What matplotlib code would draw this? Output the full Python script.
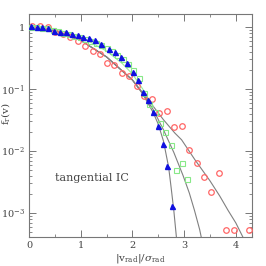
import matplotlib
matplotlib.use("Agg")
import matplotlib.pyplot as plt
from matplotlib.ticker import LogLocator, MultipleLocator, NullFormatter

# ---- data ----
blue_x = [0.04, 0.15, 0.26, 0.37, 0.49, 0.60, 0.71, 0.83, 0.94, 1.05, 1.16, 1.28,
          1.40, 1.55, 1.66, 1.77, 1.90, 2.015, 2.10, 2.21, 2.305, 2.40, 2.50, 2.595,
          2.67, 2.77]
blue_y = [1.05, 1.01, 0.99, 0.95, 0.87, 0.84, 0.82, 0.77, 0.74, 0.70, 0.66, 0.62,
          0.53, 0.45, 0.40, 0.33, 0.26, 0.19, 0.14, 0.09, 0.066, 0.042, 0.025, 0.0129,
          0.0057, 0.0013]

green_x = [0.04, 0.14, 0.25, 0.35, 0.46, 0.56, 0.66, 0.77, 0.87, 0.98, 1.08, 1.18,
           1.29, 1.39, 1.50, 1.60, 1.70, 1.81, 1.91, 2.02, 2.12, 2.22, 2.33, 2.44,
           2.53, 2.63, 2.74, 2.84, 2.95, 3.05]
green_y = [1.02, 1.0, 0.98, 0.95, 0.89, 0.85, 0.81, 0.76, 0.72, 0.68, 0.64, 0.60,
           0.56, 0.51, 0.46, 0.41, 0.36, 0.30, 0.25, 0.20, 0.15, 0.087, 0.058, 0.042,
           0.0286, 0.0202, 0.0125, 0.0049, 0.0063, 0.0035]

red_x = [0.06, 0.21, 0.36, 0.50, 0.65, 0.79, 0.94, 1.08, 1.23, 1.37, 1.51, 1.65,
         1.80, 1.94, 2.09, 2.23, 2.38, 2.52, 2.66, 2.80, 2.95, 3.09, 3.24, 3.38,
         3.52, 3.67, 3.81, 3.96, 4.25]
red_y = [1.04, 1.05, 0.99, 0.84, 0.77, 0.68, 0.60, 0.50, 0.415, 0.363, 0.268, 0.244,
         0.181, 0.164, 0.111, 0.077, 0.068, 0.0406, 0.0442, 0.0247, 0.0258, 0.0103,
         0.0063, 0.00375, 0.00216, 0.00437, 0.00053, 0.00053, 0.00053]

# model curves
curve_blue_x = [0.0, 0.5, 1.0, 1.5, 2.0, 2.2, 2.4, 2.5, 2.6, 2.7, 2.75, 2.8, 2.85]
curve_blue_y = [1.0, 0.88, 0.61, 0.33, 0.14, 0.083, 0.042, 0.027, 0.0145, 0.0055,
                0.0025, 0.0011, 0.00041]
curve_green_x = [0.0, 0.5, 1.0, 1.5, 2.0, 2.2, 2.4, 2.6, 2.8, 2.98, 3.1, 3.2, 3.3, 3.33]
curve_green_y = [1.0, 0.88, 0.61, 0.33, 0.14, 0.085, 0.047, 0.022, 0.0095, 0.0040,
                 0.0021, 0.0011, 0.00054, 0.00041]
curve_red_x = [0.0, 0.5, 1.0, 1.5, 2.0, 2.2, 2.4, 2.6, 2.82, 2.95, 3.21, 3.5, 3.69,
               3.85, 4.0, 4.135]
curve_red_y = [1.0, 0.88, 0.61, 0.33, 0.14, 0.087, 0.053, 0.032, 0.0195, 0.0152,
               0.0072, 0.0033, 0.00187, 0.0011, 0.00069, 0.00041]
curve_lg_x = [0.0, 0.5, 1.0, 1.5, 1.8, 2.0, 2.2, 2.4]
curve_lg_y = [1.0, 0.93, 0.70, 0.41, 0.26, 0.175, 0.10, 0.052]

text_label = "tangential IC"

# ---- figure ----
plt.rcParams['font.family'] = ['DejaVu Serif']
plt.rcParams['mathtext.fontset'] = 'dejavuserif'
fig = plt.figure(figsize=(2.66, 2.66), dpi=100)
ax = fig.add_axes([0.109, 0.109, 0.838, 0.838])

edge = '#777777'
txt = '#444444'

for cx, cy in [(curve_blue_x, curve_blue_y), (curve_green_x, curve_green_y),
               (curve_red_x, curve_red_y)]:
    ax.plot(cx, cy, color='#808080', lw=0.8, zorder=2)
ax.plot(curve_lg_x, curve_lg_y, color='#99ee99', lw=0.8, zorder=2)

ax.plot(red_x, red_y, 'o', mfc='none', mec='#ff6666', mew=0.9, ms=4, zorder=3)
ax.plot(green_x, green_y, 's', mfc='none', mec='#88e888', mew=0.8, ms=3.6, zorder=3)
ax.plot(blue_x, blue_y, '^', color='#1010e0', ms=3.6, zorder=4)

ax.set_yscale('log')
ax.set_xlim(0, 4.31)
ax.set_ylim(4.1e-4, 1.62)

ax.xaxis.set_major_locator(MultipleLocator(1))
ax.xaxis.set_minor_locator(MultipleLocator(0.5))
ax.yaxis.set_minor_locator(LogLocator(base=10, subs=range(2, 10), numticks=10))
ax.yaxis.set_minor_formatter(NullFormatter())
ax.set_yticks([1e-3, 1e-2, 1e-1, 1])
ax.set_yticklabels([r'$10^{-3}$', r'$10^{-2}$', r'$10^{-1}$', '1'])

ax.tick_params(which='both', direction='in', top=True, right=True, colors=edge,
               labelcolor=txt, labelsize=7, pad=3)
ax.tick_params(which='major', length=5, width=0.7)
ax.tick_params(which='minor', length=2.5, width=0.6)
for s in ax.spines.values():
    s.set_color(edge)
    s.set_linewidth(0.8)

ax.set_xlabel(r'$|\mathrm{v}_{\rm rad}|/\sigma_{\rm rad}$', color=txt, fontsize=7.5, labelpad=1)
ax.set_ylabel(r'$\mathrm{f}_{\rm r}(\mathrm{v})$', color=txt, fontsize=7.5)
ax.yaxis.set_label_coords(-0.075, 0.555)

ax.text(0.5, 0.0037, text_label, color=txt, fontsize=8, va='center', ha='left')

fig.savefig('out.png', dpi=100)
